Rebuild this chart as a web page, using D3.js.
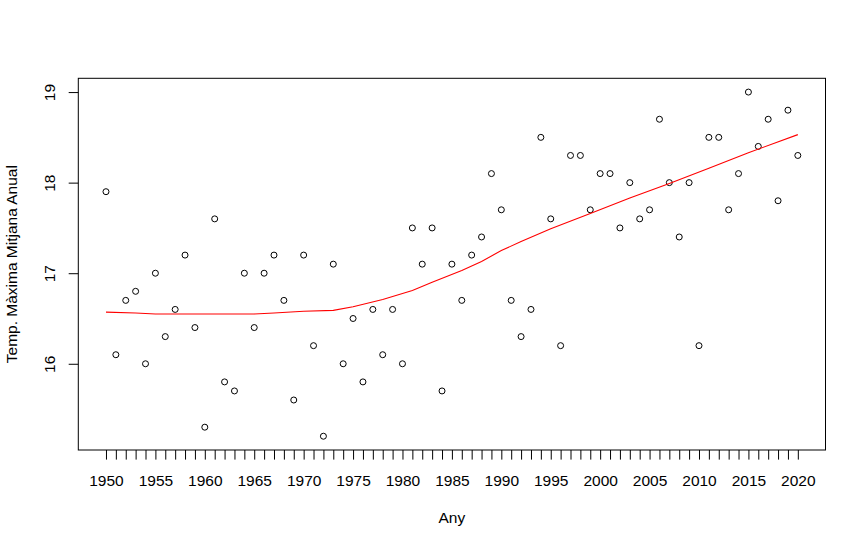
<!DOCTYPE html>
<html>
<head>
<meta charset="utf-8">
<style>
  body { margin: 0; background: #fff; }
  svg { display: block; font-family: "Liberation Sans", Arial, sans-serif; }
</style>
</head>
<body>
<svg width="866" height="548"></svg>
<script src="https://d3js.org/d3.v7.min.js"></script>
<script>
  // yearly observations
  var years = [1950, 1951, 1952, 1953, 1954, 1955, 1956, 1957, 1958, 1959,
               1960, 1961, 1962, 1963, 1964, 1965, 1966, 1967, 1968, 1969,
               1970, 1971, 1972, 1973, 1974, 1975, 1976, 1977, 1978, 1979,
               1980, 1981, 1982, 1983, 1984, 1985, 1986, 1987, 1988, 1989,
               1990, 1991, 1992, 1993, 1994, 1995, 1996, 1997, 1998, 1999,
               2000, 2001, 2002, 2003, 2004, 2005, 2006, 2007, 2008, 2009,
               2010, 2011, 2012, 2013, 2014, 2015, 2016, 2017, 2018, 2019, 2020];

  var tmax = [17.9, 16.1, 16.7, 16.8, 16.0, 17.0, 16.3, 16.6, 17.2, 16.4,
              15.3, 17.6, 15.8, 15.7, 17.0, 16.4, 17.0, 17.2, 16.7, 15.6,
              17.2, 16.2, 15.2, 17.1, 16.0, 16.5, 15.8, 16.6, 16.1, 16.6,
              16.0, 17.5, 17.1, 17.5, 15.7, 17.1, 16.7, 17.2, 17.4, 18.1,
              17.7, 16.7, 16.3, 16.6, 18.5, 17.6, 16.2, 18.3, 18.3, 17.7,
              18.1, 18.1, 17.5, 18.0, 17.6, 17.7, 18.7, 18.0, 17.4, 18.0,
              16.2, 18.5, 18.5, 17.7, 18.1, 19.0, 18.4, 18.7, 17.8, 18.8, 18.3];

  // smoothed trend (red line)
  var smoothYears = [1950, 1953, 1955, 1960, 1965, 1967, 1970, 1973, 1975, 1978,
                     1981, 1983, 1986, 1988, 1990, 1992, 1995, 1999, 2003, 2007,
                     2011, 2015, 2020];
  var smoothVals  = [16.57, 16.56, 16.55, 16.55, 16.55, 16.56, 16.58, 16.59, 16.63, 16.71,
                     16.81, 16.90, 17.03, 17.13, 17.25, 17.35, 17.49, 17.66, 17.83, 17.99,
                     18.16, 18.33, 18.53];

  var xTicks = [1950, 1951, 1952, 1953, 1954, 1955, 1956, 1957, 1958, 1959,
                1960, 1961, 1962, 1963, 1964, 1965, 1966, 1967, 1968, 1969,
                1970, 1971, 1972, 1973, 1974, 1975, 1976, 1977, 1978, 1979,
                1980, 1981, 1982, 1983, 1984, 1985, 1986, 1987, 1988, 1989,
                1990, 1991, 1992, 1993, 1994, 1995, 1996, 1997, 1998, 1999,
                2000, 2001, 2002, 2003, 2004, 2005, 2006, 2007, 2008, 2009,
                2010, 2011, 2012, 2013, 2014, 2015, 2016, 2017, 2018, 2019, 2020];
  var yTicks = [16, 17, 18, 19];

  var svg = d3.select("svg"),
      margin = {top: 78.3, right: 40.5, bottom: 98, left: 78.3},
      width = +svg.attr("width") - margin.left - margin.right,
      height = +svg.attr("height") - margin.top - margin.bottom,
      g = svg.append("g").attr("transform", "translate(" + margin.left + "," + margin.top + ")");

  var fs = "15.5px";

  var data = years.map(function(y, i) { return {year: y, t: tmax[i]}; });
  var trend = smoothYears.map(function(y, i) { return {year: y, t: smoothVals[i]}; });

  // R style 4% padding on each side
  function pad(ext) {
    var d = (ext[1] - ext[0]) * 0.04;
    return [ext[0] - d, ext[1] + d];
  }

  var x = d3.scaleLinear().range([0, width]).domain(pad(d3.extent(years)));
  var y = d3.scaleLinear().range([height, 0]).domain(pad(d3.extent(tmax)));

  // x axis
  var gx = g.append("g")
      .attr("transform", "translate(0," + height + ")")
      .call(d3.axisBottom(x).tickValues(xTicks).tickSize(9.6).tickFormat(""));
  gx.select(".domain").remove();
  gx.selectAll(".tick line").attr("stroke", "#000");
  gx.selectAll(".tick").filter(function(d) { return d % 5 === 0; })
    .append("text")
      .attr("y", 35.7)
      .attr("fill", "#000")
      .attr("text-anchor", "middle")
      .style("font-size", fs)
      .text(function(d) { return d; });

  // y axis
  var gy = g.append("g")
      .call(d3.axisLeft(y).tickValues(yTicks).tickSize(9.6).tickFormat(""));
  gy.select(".domain").remove();
  gy.selectAll(".tick line").attr("stroke", "#000");
  gy.selectAll(".tick").append("text")
      .attr("transform", "rotate(-90)")
      .attr("x", 0)
      .attr("y", -23.3)
      .attr("fill", "#000")
      .attr("text-anchor", "middle")
      .style("font-size", fs)
      .text(function(d) { return d; });

  // box
  g.append("rect")
      .attr("width", width)
      .attr("height", height)
      .attr("fill", "none")
      .attr("stroke", "#000")
      .attr("stroke-width", 1);

  // points
  g.selectAll(".pt")
    .data(data)
    .enter().append("circle")
      .attr("class", "pt")
      .attr("cx", function(d) { return x(d.year); })
      .attr("cy", function(d) { return y(d.t); })
      .attr("r", 3)
      .attr("fill", "none")
      .attr("stroke", "#000")
      .attr("stroke-width", 1);

  var line = d3.line()
      .x(function(d) { return x(d.year); })
      .y(function(d) { return y(d.t); });

  g.append("path")
      .datum(trend)
      .attr("fill", "none")
      .attr("stroke", "#ff0000")
      .attr("stroke-width", 1.1)
      .attr("d", line);

  // axis titles
  svg.append("text")
      .attr("x", margin.left + width / 2)
      .attr("y", 523.3)
      .attr("text-anchor", "middle")
      .style("font-size", fs)
      .text("Any");

  svg.append("text")
      .attr("transform", "translate(17.3," + (margin.top + height / 2) + ") rotate(-90)")
      .attr("text-anchor", "middle")
      .style("font-size", fs)
      .text("Temp. Màxima Mitjana Anual");
</script>
</body>
</html>
